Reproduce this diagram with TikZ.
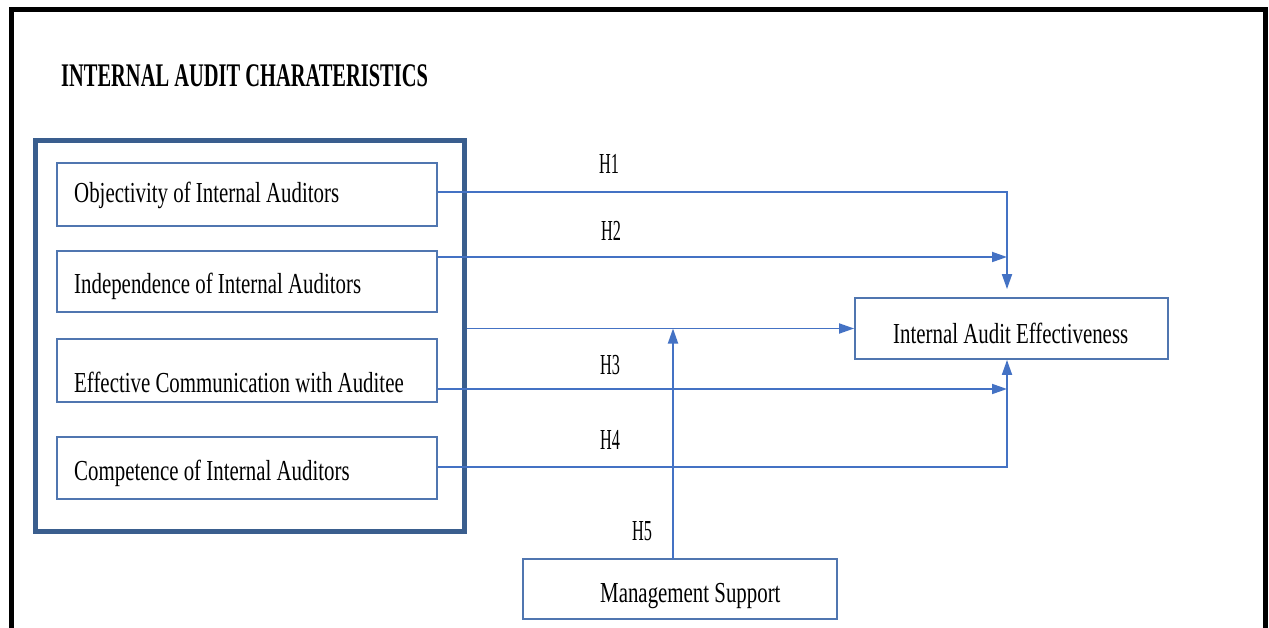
\documentclass[tikz,border=0pt]{standalone}
\usepackage{fontspec}
\setmainfont{Liberation Serif}
\newfontfamily\boxfont[FakeStretch=0.72]{Liberation Serif}
\newfontfamily\hfont[FakeStretch=0.56]{Liberation Serif}
\newfontfamily\titlefont[FakeStretch=0.62]{Liberation Serif}
\usetikzlibrary{arrows.meta}
\definecolor{connblue}{RGB}{68,114,196}
\definecolor{boxblue}{RGB}{80,118,176}
\definecolor{frameblue}{RGB}{58,94,142}
\tikzset{
  box/.style={draw=boxblue, line width=1.8pt, fill=white, rectangle, inner sep=0pt},
  lbl/.style={inner sep=0pt, font=\boxfont\fontsize{29}{33}\selectfont, text=black},
  hlbl/.style={inner sep=0pt, font=\hfont\fontsize{29}{33}\selectfont, text=black, anchor=base west},
  conn/.style={draw=connblue, line width=1.8pt, -{Triangle[length=15pt,width=10pt]}},
}
\begin{document}
\begin{tikzpicture}[x=1pt,y=-1pt]
\useasboundingbox (0,0) rectangle (1269,628);
% outer black frame
\draw[line width=5pt, black] (11,640) -- (11,9.5) -- (1265.5,9.5) -- (1265.5,640);
% title
\node[inner sep=0pt, anchor=base west, font=\titlefont\bfseries\fontsize{33}{36}\selectfont] (title) at (61,87) {INTERNAL AUDIT CHARATERISTICS};
% group frame
\node[draw=frameblue, line width=5pt, rectangle, minimum width=429pt, minimum height=390pt, inner sep=0pt] (frame) at (249.5,336) {};
% boxes
\node[box, minimum width=380pt, minimum height=63pt] (b1) at (247,194.5) {};
\node[box, minimum width=380pt, minimum height=61pt] (b2) at (247,281.5) {};
\node[box, minimum width=380pt, minimum height=63pt] (b3) at (247,370.5) {};
\node[box, minimum width=380pt, minimum height=62pt] (b4) at (247,468) {};
\node[lbl, anchor=base west] (t1) at (74,203) {Objectivity of Internal Auditors};
\node[lbl, anchor=base west] (t2) at (74,294) {Independence of Internal Auditors};
\node[lbl, anchor=base west] (t3) at (74,392) {Effective Communication with Auditee};
\node[lbl, anchor=base west] (t4) at (74,480) {Competence of Internal Auditors};
% outcome and moderator
\node[box, minimum width=313pt, minimum height=61pt] (iae) at (1011.5,328.5) {};
\node[lbl, anchor=base west] (tiae) at (893,343) {Internal Audit Effectiveness};
\node[box, minimum width=314pt, minimum height=60pt] (ms) at (680,589) {};
\node[lbl, anchor=base west] (tms) at (600,602) {Management Support};
% connector coordinates
\coordinate (xj) at (1007,0);
\coordinate (s1) at (438,192);
\coordinate (s2) at (438,257);
\coordinate (s3) at (438,389);
\coordinate (s4) at (438,467);
\coordinate (e2) at (1007,257);
\coordinate (e3) at (1007,389);
\coordinate (mstop) at (673,559);
% connectors
\draw[conn, shorten >=8pt] (s1) -| (xj |- iae.north);
\draw[conn] (s2) -- (e2);
\draw[conn] (frame.east |- iae.west) -- (iae.west);
\draw[conn] (s3) -- (e3);
\draw[conn] (s4) -| (xj |- iae.south);
\draw[conn] (mstop) -- (mstop |- iae.west);
% hypothesis labels
\node[hlbl] (h1) at (599,174) {H1};
\node[hlbl] (h2) at (601,241) {H2};
\node[hlbl] (h3) at (600,374) {H3};
\node[hlbl] (h4) at (600,449) {H4};
\node[hlbl] (h5) at (632,540) {H5};
\end{tikzpicture}
\end{document}
